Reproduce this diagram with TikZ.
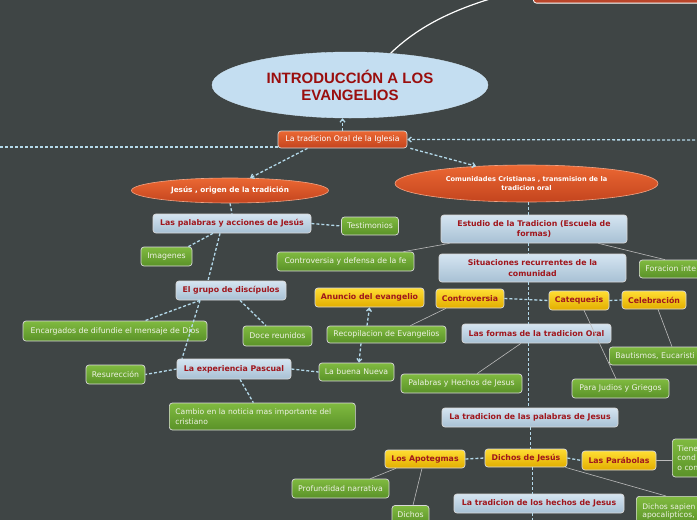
\documentclass[tikz,border=0pt]{standalone}
\usepackage{fontspec}
\usetikzlibrary{shapes.geometric,arrows.meta,calc}
\newfontfamily\dvs{DejaVu Sans}
\newfontfamily\libs{Liberation Sans}
\newcommand\regf{\dvs\fontsize{7.8}{10}\selectfont}
\newcommand\boldf{\dvs\bfseries\fontsize{7.8}{10.5}\selectfont}
\definecolor{bgc}{HTML}{3F4545}
\definecolor{dashc}{HTML}{B4D9EA}
\definecolor{solc}{HTML}{BBBBBB}
\definecolor{bordc}{HTML}{D9D9D9}
\definecolor{blueT}{HTML}{D5E5F1}
\definecolor{blueB}{HTML}{A7C0D4}
\definecolor{grT}{HTML}{80BA40}
\definecolor{grB}{HTML}{5A9228}
\definecolor{yT}{HTML}{FFDD33}
\definecolor{yB}{HTML}{E2AE00}
\definecolor{oT}{HTML}{EB6833}
\definecolor{oB}{HTML}{C4441E}
\definecolor{titleF}{HTML}{C4DEF1}
\definecolor{titleTxt}{HTML}{9A0E0E}
\definecolor{txtred}{HTML}{A0161C}
\definecolor{grtxt}{HTML}{EEF2E4}
\definecolor{topc}{HTML}{B9452A}
\begin{document}
\begin{tikzpicture}[x=1pt,y=-1pt,
  box/.style={rounded corners=3pt, draw=bordc, line width=0.7pt, inner sep=2pt, align=center},
  bluebox/.style={box, top color=blueT, bottom color=blueB, text=txtred, font=\boldf},
  greenbox/.style={box, top color=grT, bottom color=grB, text=grtxt, font=\regf},
  yelbox/.style={box, top color=yT, bottom color=yB, text=txtred, font=\boldf},
  orngbox/.style={box, top color=oT, bottom color=oB, text=white},
  orngell/.style={ellipse, draw=oT!60!white, line width=0.6pt, top color=oT, bottom color=oB, text=white, inner sep=0pt, align=center},
  dl/.style={draw=dashc, line width=1.3pt, dash pattern=on 3pt off 2pt},
  sl/.style={draw=solc, line width=0.6pt},
  tip/.style={-{Straight Barb[length=3pt,width=5pt]}}
]
\useasboundingbox (0,0) rectangle (697,520);
\fill[bgc] (0,0) rectangle (697,520);
\clip (0,0) rectangle (697,520);

% top-right partial box
\node[rounded corners=3pt, fill=topc, draw=white, line width=0.8pt, minimum width=190pt, minimum height=31pt, anchor=south west] (topbox) at (533,3.5) {};

% title
\node[ellipse, fill=titleF, draw=titleF!85!white, minimum width=276pt, minimum height=66pt, inner sep=0pt, text=titleTxt, align=center,
  font=\libs\bfseries\fontsize{15}{17}\selectfont] (title) at (350,85) {INTRODUCCIÓN A LOS\\EVANGELIOS};

\node[orngbox, minimum width=129pt, minimum height=17pt, font=\regf] (trad) at (342.5,139.5) {La tradicion Oral de la Iglesia};

\node[orngell, minimum width=197pt, minimum height=25pt, font=\dvs\bfseries\fontsize{7.3}{9}\selectfont] (jesus) at (230,190.5) {Jesús , origen de la tradición};
\node[orngell, minimum width=263pt, minimum height=37pt, font=\dvs\bfseries\fontsize{6.6}{9}\selectfont] (comun) at (526.5,183.5) {Comunidades Cristianas , transmision de la\\tradicion oral};

% left branch
\node[bluebox, minimum width=158pt, minimum height=19pt] (pal) at (232,223.5) {Las palabras y acciones de Jesús};
\node[greenbox, minimum width=57pt, minimum height=18pt] (testi) at (370,226) {Testimonios};
\node[greenbox, minimum width=51pt, minimum height=19pt] (imag) at (166.5,256.5) {Imagenes};
\node[greenbox, minimum width=137pt, minimum height=19pt] (contfe) at (345.5,261.5) {Controversia y defensa de la fe};
\node[bluebox, minimum width=110pt, minimum height=19pt] (grupo) at (231,290.5) {El grupo de discípulos};
\node[greenbox, minimum width=184pt, minimum height=20pt] (encarg) at (115,331) {Encargados de difundie el mensaje de Dios};
\node[greenbox, minimum width=69pt, minimum height=20pt] (doce) at (277.5,336) {Doce reunidos};
\node[bluebox, minimum width=114pt, minimum height=20pt] (pasc) at (234,369) {La experiencia Pascual};
\node[greenbox, minimum width=59pt, minimum height=19pt] (resur) at (115.5,374.5) {Resurección};
\node[greenbox, minimum width=75pt, minimum height=18pt] (buena) at (356.5,372) {La buena Nueva};
\node[greenbox, anchor=west, minimum width=186pt, minimum height=27pt, inner xsep=6pt, text width=174pt, align=left,
  font=\dvs\fontsize{7.6}{10}\selectfont] (cambio) at (169,416.5) {Cambio en la noticia mas importante del\\cristiano};

% middle
\node[yelbox, minimum width=109pt, minimum height=19pt] (anun) at (369.5,297.5) {Anuncio del evangelio};
\node[yelbox, minimum width=68pt, minimum height=19pt] (contr) at (470,298.5) {Controversia};
\node[yelbox, minimum width=60pt, minimum height=19pt] (cateq) at (579,300.5) {Catequesis};
\node[yelbox, minimum width=64pt, minimum height=18pt] (celeb) at (654,300) {Celebración};
\node[bluebox, minimum width=186pt, minimum height=28pt] (estudio) at (534,229) {Estudio de la Tradicion (Escuela de\\formas)};
\node[bluebox, minimum width=187pt, minimum height=28pt] (situ) at (532.5,268) {Situaciones recurrentes de la\\comunidad};
\node[greenbox, anchor=west, minimum height=18pt, inner xsep=6pt, text width=88pt, align=left] (forac) at (639,269) {Foracion inte};
\node[greenbox, minimum width=119pt, minimum height=17pt] (recop) at (386.5,334.5) {Recopilacion de Evangelios};
\node[bluebox, minimum width=149pt, minimum height=19pt] (formas) at (536.5,333.5) {Las formas de la tradicion Oral};
\node[greenbox, minimum width=121pt, minimum height=19pt] (palh) at (461.5,383.5) {Palabras y Hechos de Jesus};
\node[greenbox, anchor=west, minimum height=18pt, inner xsep=6pt, text width=100pt, align=left] (bauti) at (609,356) {Bautismos, Eucaristi};
\node[greenbox, minimum width=97pt, minimum height=19pt] (judios) at (620.5,388.5) {Para Judios y Griegos};

% lower
\node[bluebox, minimum width=176pt, minimum height=19pt] (tpal) at (530,417.5) {La tradicion de las palabras de Jesus};
\node[yelbox, minimum width=82pt, minimum height=18pt] (dichosj) at (526,458) {Dichos de Jesús};
\node[yelbox, minimum width=80pt, minimum height=18pt] (apot) at (425,459) {Los Apotegmas};
\node[yelbox, minimum width=74pt, minimum height=19pt] (parab) at (619,460.5) {Las Parábolas};
\node[greenbox, anchor=west, minimum height=38pt, inner xsep=5pt, text width=40pt, align=left,
  font=\dvs\fontsize{7.6}{9.5}\selectfont] (tiene) at (672,458) {Tiene\\cond\\o con};
\node[greenbox, minimum width=97pt, minimum height=19pt] (profu) at (340.5,488.5) {Profundidad narrativa};
\node[greenbox, minimum width=37pt, minimum height=19pt] (dichos) at (410.5,515) {Dichos};
\node[bluebox, minimum width=170pt, minimum height=19pt] (thech) at (539,503.5) {La tradicion de los hechos de Jesus};
\node[greenbox, anchor=north west, minimum height=30pt, inner xsep=6pt, inner ysep=4pt, text width=80pt, align=left,
  font=\dvs\fontsize{7.6}{8.5}\selectfont] (sapien) at (636,496) {Dichos sapien\\apocalipticos,};

% coordinates for free ends
\coordinate (L) at (-5,147);
\coordinate (R) at (705,140);
\coordinate (v1) at (528.5,0);
\coordinate (v2) at (530.5,0);
\coordinate (v3) at (532.5,0);
\coordinate (vb) at (532.5,530);

% white curve to top box
\draw[white, line width=1.2pt] (title.38) .. controls (425,20) and (470,2) .. (topbox.west);

% dashed connectors
\draw[dl, tip] (trad.north) -- (trad.north |- title.south);
\draw[dl] (L) -- (L -| trad.west);
\draw[dl, tip] (R) -- (trad.east);
\draw[dl, tip] ($(trad.south)+(-35,0)$) -- (jesus.32);
\draw[dl, tip] ($(trad.south east)+(3,0)$) -- (comun.161);
\draw[dl] (jesus.south) -- (pal.north);
\draw[dl] (pal.east) -- (testi.west);
\draw[dl] ($(pal.south)+(-19,0)$) -- ($(imag.north east)+(-4,0)$);
\draw[dl] ($(pal.south)+(-12,0)$) -- ($(grupo.north)+(-23,0)$);
\draw[dl] ($(grupo.south)+(-31,0)$) -- ($(encarg.north)+(30,0)$);
\draw[dl] ($(grupo.south)+(9,0)$) -- ($(doce.north)+(-11.5,0)$);
\draw[dl] ($(grupo.south)+(-31,0)$) -- ($(pasc.north)+(-52,0)$);
\draw[dl] (pasc.west) -- (resur.east);
\draw[dl] (pasc.east) -- (buena.west);
\draw[dl] ($(pasc.south)+(6,0)$) -- ($(cambio.north)+(-9,0)$);
\draw[dl, tip] ($(recop.north)+(-19.5,0)$) -- (anun.south);
\draw[dl, tip] ($(recop.south)+(-25.5,0)$) -- ($(buena.north)+(2.5,0)$);
\draw[dl] (contr.east) -- (cateq.west);
\draw[dl] (cateq.east) -- (celeb.west);
\draw[dl] (v1 |- comun.south) -- (v1 |- estudio.north);
\draw[dl] (v1 |- estudio.south) -- (v1 |- situ.north);
\draw[dl] (v1 |- situ.south) -- (v1 |- formas.north);
\draw[dl] (v1 |- formas.south) -- (v1 |- tpal.north);
\draw[dl] (v2 |- tpal.south) -- (v2 |- dichosj.north);
\draw[dl] (v3 |- dichosj.south) -- (v3 |- thech.north);
\draw[dl] (v3 |- thech.south) -- (vb);
\draw[dl] (apot.east) -- (dichosj.west);
\draw[dl] (dichosj.east) -- (parab.west);

% solid connectors
\draw[sl] ($(estudio.south west)+(9,0)$) -- ($(contfe.north east)+(-11,0)$);
\draw[sl] ($(estudio.south east)+(-29,0)$) -- ($(forac.north west)+(26,0)$);
\draw[sl] ($(contr.south)+(-24,0)$) -- ($(recop.north east)+(-36,0)$);
\draw[sl] ($(formas.south)+(-15.5,0)$) -- ($(palh.north)+(15.5,0)$);
\draw[sl] ($(cateq.south)+(5,0)$) -- ($(judios.north)+(-4.5,0)$);
\draw[sl] ($(celeb.south)+(4,0)$) -- ($(bauti.north west)+(63,0)$);
\draw[sl] (parab.east) -- (tiene.west |- parab.east);
\draw[sl] ($(apot.south)+(-29,0)$) -- ($(profu.north east)+(-19,0)$);
\draw[sl] ($(apot.south)+(-3,0)$) -- ($(dichos.north)+(2.5,0)$);
\draw[sl] ($(dichosj.south east)+(-2,0)$) -- ($(sapien.north west)+(30,0)$);
\end{tikzpicture}
\end{document}
